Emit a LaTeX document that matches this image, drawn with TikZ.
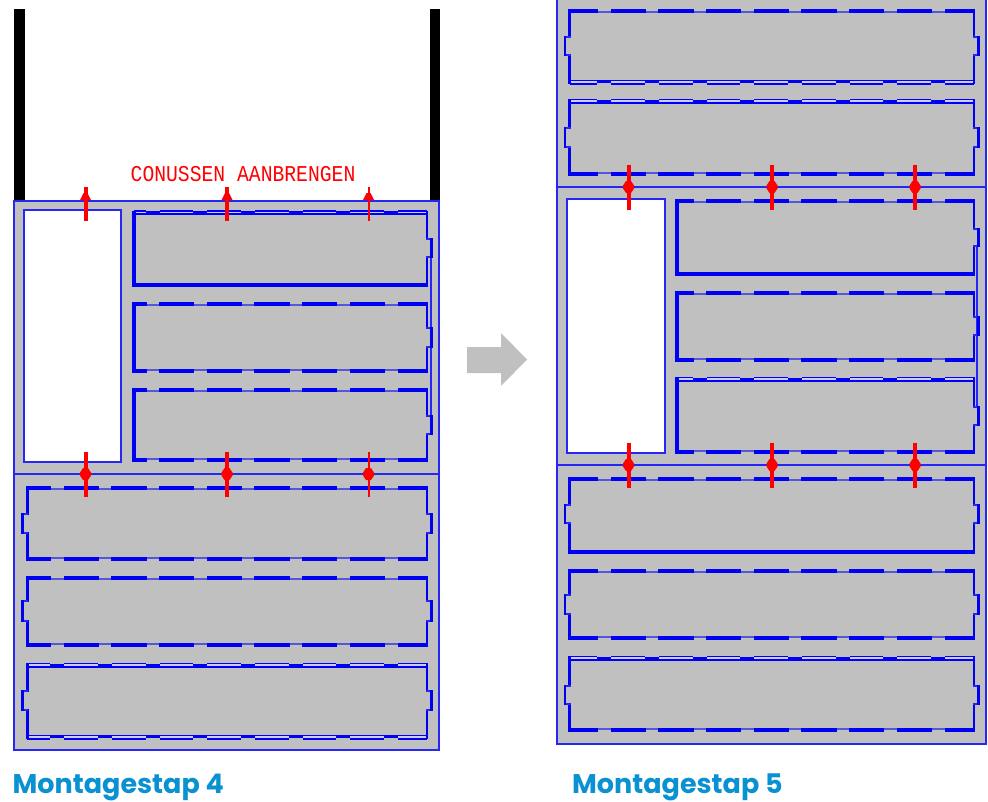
\documentclass[tikz,border=0pt]{standalone}
\usepackage{fontspec}
\setmainfont{Poppins}
\newfontfamily\cadfont{Liberation Mono}
\definecolor{plategray}{RGB}{192, 192, 192}
\definecolor{lineblue}{RGB}{0, 0, 245}
\definecolor{lightband}{RGB}{205, 205, 255}
\definecolor{stepblue}{RGB}{10, 145, 210}

\tikzset{
	outline/.style = {draw = lineblue!85!white, line width = 2pt},
	band/.style = {lineblue, line width = 4.2pt},
	thinband/.style = {lineblue!85!white, line width = 1.8pt},
	gap/.style = {plategray, line width = 2.6pt},
	cone/.style = {red, line width = 4pt},
	thincone/.style = {red, line width = 2pt},
	steplabel/.style = {text = stepblue, font = \fontsize{27}{27}\selectfont\bfseries, anchor = base west, inner sep = 0pt}
}

% #1 = left end, #2 = right end, #3 = y, #4 = side of the plate (1 top edge, -1 bottom edge), #5 = last notch
\newcommand{\edgeplain}[5]{
	\draw [band] (#1, #3) -- (#2, #3);
}
\newcommand{\edgenotch}[5]{
	\draw [band] (#1, #3) -- (#2, #3);
	\foreach \k in {0, ..., #5}
	{
		\draw [gap] ({#2 - 42 - 47.7 * \k}, {#3 - 0.9 * #4}) -- ++(12.5, 0);
		\draw [lineblue!55!plategray, line width = 1.6pt] ({#2 - 42 - 47.7 * \k}, {#3 + 1.2 * #4}) -- ++(12.5, 0);
	}
}
\newcommand{\edgehollow}[5]{
	\draw [lineblue, line width = 5pt] (#1, #3) -- (#2, #3);
	\draw [lightband, line width = 1.7pt] (#1 + 1, #3) -- (#2 - 1, #3);
	\foreach \k in {0, ..., #5}
	{
		\draw [plategray, line width = 1.2pt] ({#2 - 43 - 47.7 * \k}, {#3 - 2 * #4}) -- ++(14, 0);
		\draw [lineblue, line width = 3.2pt] ({#2 - 43 - 47.7 * \k}, {#3 + 0.4 * #4}) -- ++(14, 0);
	}
}
% #1 = x0, #2 = x1, #3 = y0, #4 = y1, #5 = top edge, #6 = bottom edge, #7 = last notch, #8 = width of the left side
\newcommand{\plate}[8]{
	\csname edge#5\endcsname{#1}{#2}{#3}{1}{#7}
	\csname edge#6\endcsname{#1}{#2}{#4}{-1}{#7}
	\draw [lineblue, line width = #8pt] (#1, #3 - 2) -- (#1, #4 + 2);
	\draw [lineblue, line width = 2.6pt] (#2, #3 - 2) -- (#2, #4 + 2);
}
% #1 = edge x, #2 = side (1 right, -1 left), #3 = y0, #4 = y1, #5 = width of the bar
\newcommand{\lug}[5]{
	\draw [plategray, line width = 4pt] (#1, #3 + 1) -- (#1, #4 - 1);
	\draw [thinband] (#1 - 1 * #2, #3) -- (#1 + 4 * #2, #3);
	\draw [thinband] (#1 - 1 * #2, #4) -- (#1 + 4 * #2, #4);
	\draw [lineblue, line width = #5pt] (#1 + 4.6 * #2, #3 - 0.9) -- (#1 + 4.6 * #2, #4 + 0.9);
}
% #1 = x, #2 = y of the joint, #3 = style
\newcommand{\conepin}[3]{
	\draw [#3] (#1, #2 - 22.5) -- (#1, #2 + 22.5);
	\fill [red] (#1 - 5.5, #2 - 1.5) -- (#1 - 2.5, #2 - 6) -- (#1 + 2.5, #2 - 6) -- (#1 + 5.5, #2 - 1.5) -- (#1 + 5.5, #2 + 1.5) -- (#1 + 2.5, #2 + 6) -- (#1 - 2.5, #2 + 6) -- (#1 - 5.5, #2 + 1.5) -- cycle;
}
\newcommand{\conetop}[3]{
	\draw [#3] (#1, 187) -- (#1, #2);
	\fill [red] (#1 - 5.5, 200) -- (#1 - 2, 193) -- (#1 + 2, 193) -- (#1 + 5.5, 200) -- cycle;
}

\begin{document}
\begin{tikzpicture}[x = 1pt, y = -1pt]

	\useasboundingbox (0, 0) rectangle (988, 801);

	% Posts

	\fill [black] (14, 9) rectangle (25, 200);
	\fill [black] (430, 9) rectangle (440, 200);

	% Frames

	\draw [outline, fill = plategray] (14, 200.5) rectangle (438.5, 750);
	\draw [outline] (14, 474) -- (438.5, 474);
	\draw [outline, fill = white] (24, 210) rectangle (120.5, 462);

	\begin{scope}
		\clip (0, 0) rectangle (988, 801);
		\draw [outline, fill = plategray] (557, -5) rectangle (986, 744);
	\end{scope}
	\draw [outline] (557, 187) -- (986, 187);
	\draw [outline] (557, 465) -- (986, 465);
	\draw [outline, fill = white] (567, 199) rectangle (665, 453);

	% Plates, step 4

	\plate{134}{427}{212.5}{285}{hollow}{plain}{5}{4}
	\plate{134}{427}{304}{371}{notch}{notch}{5}{4}
	\plate{134}{427}{390}{460}{notch}{notch}{5}{4}
	\plate{27}{427}{488}{559}{notch}{notch}{7}{3}
	\plate{27}{427}{578}{645}{notch}{notch}{7}{3}
	\plate{27}{427}{665}{737}{hollow}{hollow}{7}{3}

	\draw [thinband] (431, 241) -- (431, 420);
	\foreach \ya/\yb in {239/257, 328/347, 416/434}
	{
		\lug{427}{1}{\ya}{\yb}{3.5};
	}
	\foreach \ya/\yb in {514/533, 601/621, 691/710}
	{
		\lug{427}{1}{\ya}{\yb}{3.5};
		\lug{27}{-1}{\ya}{\yb}{2.4};
	}

	% Plates, step 5

	\plate{569.5}{974}{11}{82}{notch}{hollow}{7}{3}
	\plate{569.5}{974}{101}{174}{hollow}{notch}{7}{3}
	\plate{677}{974}{201}{274}{notch}{plain}{5}{4}
	\plate{677}{974}{293}{360}{notch}{notch}{5}{4}
	\plate{677}{974}{379}{452}{hollow}{notch}{5}{4}
	\plate{569.5}{974}{479}{552}{notch}{plain}{7}{3}
	\plate{569.5}{974}{571}{638}{notch}{notch}{7}{3}
	\plate{569.5}{974}{658}{730}{hollow}{notch}{7}{3}

	\draw [thinband] (977, 247) -- (977, 408);
	\foreach \ya/\yb in {229/246, 317/335, 407/425}
	{
		\lug{974}{1}{\ya}{\yb}{3.5};
	}
	\foreach \ya/\yb in {37/55, 128/147, 505/523, 595/614, 686/704}
	{
		\lug{974}{1}{\ya}{\yb}{3.5};
		\lug{569.5}{-1}{\ya}{\yb}{2.4};
	}

	% Cones

	\conetop{85.5}{221}{cone}
	\conetop{227}{221}{cone}
	\conetop{368.5}{221}{thincone}
	\conepin{85.5}{474}{cone}
	\conepin{227}{474}{cone}
	\conepin{368.5}{474}{thincone}

	\foreach \x in {628.5, 772, 915}
	{
		\conepin{\x}{187}{cone}
		\conepin{\x}{465}{cone}
	}

	% Arrow between the steps

	\fill [plategray] (467, 347) -- (501, 347) -- (501, 333) -- (527, 359.5) -- (501, 386) -- (501, 373) -- (467, 373) -- cycle;

	% Labels

	\node (cones) [text = red, font = \cadfont\fontsize{22.6}{23}\selectfont, anchor = base west, inner sep = 0pt] at (130.5, 181) {\scalebox{0.872}[1]{CONUSSEN AANBRENGEN}};
	\node (step four) [steplabel] at (12.5, 793) {Montagestap 4};
	\node (step five) [steplabel] at (572, 793) {Montagestap 5};

\end{tikzpicture}
\end{document}
